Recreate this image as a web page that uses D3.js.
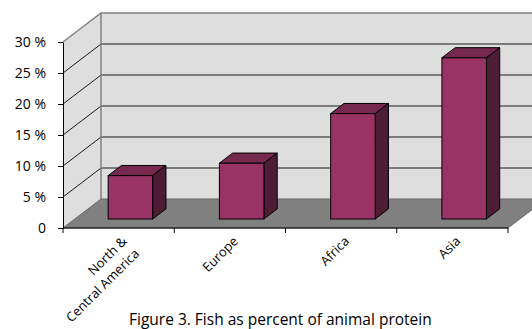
<!DOCTYPE html>
<html>
<head>
<meta charset="utf-8">
<script src="https://cdn.jsdelivr.net/npm/d3@7"></script>
<style>
  body { margin: 0; background: #fff; }
  text { font-family: "Open Sans", sans-serif; fill: #000; }
</style>
</head>
<body>
<svg id="chart" width="532" height="329"></svg>
<script>
let categories = [['North &', 'Central America'], ['Europe'], ['Africa'], ['Asia']];
let values = [7, 9, 17, 26];
let yTicks = [0, 5, 10, 15, 20, 25, 30];
let yTickLabels = ['0', '5 %', '10 %', '15 %', '20 %', '25 %', '30 %'];
let title = 'Figure 3. Fish as percent of animal protein';

let width = 532;
let height = 329;

// front plane of the box and how far back the walls sit
let x0 = 63, x1 = 508;
let depthX = 38, depthY = -29;
let barFront = 0.31, barBack = 0.66;

let svg = d3.select('#chart');

let x = d3.scaleBand()
  .domain(d3.range(categories.length))
  .range([x0, x1])
  .paddingInner(0.6)
  .paddingOuter(0.3);

let xOuter = d3.scaleBand()
  .domain(d3.range(categories.length))
  .range([x0, x1]);

let y = d3.scaleLinear()
  .domain([0, 30])
  .range([228, 42]);

// move a front-plane point back by depth d (0..1)
const P = (px, py, d) => [px + d * depthX, py + d * depthY];
const poly = pts => pts.map(p => p.join(',')).join(' ');

let yMax = d3.max(yTicks);

// side wall
svg.append('polygon')
  .attr('points', poly([P(x0, y(yMax), 0), P(x0, y(yMax), 1), P(x0, y(0), 1), P(x0, y(0), 0)]))
  .attr('fill', '#dedede');

// back wall
svg.append('polygon')
  .attr('points', poly([P(x0, y(yMax), 1), P(x1, y(yMax), 1), P(x1, y(0), 1), P(x0, y(0), 1)]))
  .attr('fill', '#dedede');

// gridlines on both walls
let grid = svg.append('g').attr('class', 'grid');
yTicks.filter(v => v > 0 && v < yMax).forEach(v => {
  let a = P(x0, y(v), 0), b = P(x0, y(v), 1), c = P(x1, y(v), 1);
  grid.append('polyline')
    .attr('points', poly([a, b, c]))
    .attr('fill', 'none')
    .attr('stroke', '#1a1a1a')
    .attr('stroke-width', 1);
});

// wall outline
svg.append('polyline')
  .attr('points', poly([P(x0, y(yMax), 0), P(x0, y(yMax), 1), P(x1, y(yMax), 1)]))
  .attr('fill', 'none')
  .attr('stroke', '#808080')
  .attr('stroke-width', 1.5);
svg.append('line')
  .attr('x1', P(x0, 0, 1)[0]).attr('x2', P(x0, 0, 1)[0])
  .attr('y1', P(0, y(yMax), 1)[1]).attr('y2', P(0, y(0), 1)[1])
  .attr('stroke', '#808080')
  .attr('stroke-width', 1.5);

// floor
svg.append('polygon')
  .attr('points', poly([P(x0, y(0), 0), P(x1, y(0), 0), P(x1, y(0), 1), P(x0, y(0), 1)]))
  .attr('fill', '#808080')
  .attr('stroke', '#6a6a6a')
  .attr('stroke-width', 1);

// bars
let bars = svg.append('g').attr('class', 'bars')
  .selectAll('g')
  .data(values)
  .join('g');

bars.each(function (v, i) {
  let g = d3.select(this);
  let l = x(i) + barFront * depthX, r = l + x.bandwidth();
  let lx = x(i), rx = x(i) + x.bandwidth();
  let fb = P(lx, y(0), barFront)[1], ft = P(lx, y(v), barFront)[1];
  let bb = P(lx, y(0), barBack)[1], bt = P(lx, y(v), barBack)[1];
  let lb = P(lx, 0, barBack)[0], rb = P(rx, 0, barBack)[0];
  // top
  g.append('polygon')
    .attr('points', poly([[l, ft], [r, ft], [rb, bt], [lb, bt]]))
    .attr('fill', '#76284f').attr('stroke', '#000').attr('stroke-width', 1);
  // side
  g.append('polygon')
    .attr('points', poly([[r, ft], [rb, bt], [rb, bb], [r, fb]]))
    .attr('fill', '#4d1d33').attr('stroke', '#000').attr('stroke-width', 1);
  // front
  g.append('rect')
    .attr('x', l).attr('y', ft)
    .attr('width', r - l).attr('height', fb - ft)
    .attr('fill', '#993366').attr('stroke', '#000').attr('stroke-width', 1);
});

// y axis
let yAxis = d3.axisLeft(y)
  .tickValues(yTicks)
  .tickFormat((d, i) => yTickLabels[i])
  .tickSize(5)
  .tickSizeOuter(0);

svg.append('g')
  .attr('transform', `translate(${x0},0)`)
  .call(yAxis)
  .call(g => g.select('.domain').attr('stroke', '#000'))
  .call(g => g.selectAll('.tick line').attr('stroke', '#000'))
  .call(g => g.selectAll('.tick text')
    .attr('x', -17)
    .attr('font-family', '"Open Sans", sans-serif')
    .attr('font-size', 14)
    .attr('fill', '#000'));

// x axis: ticks on category boundaries
let xAxisG = svg.append('g').attr('class', 'x-axis');
xAxisG.append('line')
  .attr('x1', x0).attr('x2', x1)
  .attr('y1', y(0)).attr('y2', y(0))
  .attr('stroke', '#000');
let bounds = xOuter.domain().map(i => xOuter(i)).concat([x1]);
xAxisG.selectAll('line.tick')
  .data(bounds)
  .join('line')
  .attr('class', 'tick')
  .attr('x1', d => d).attr('x2', d => d)
  .attr('y1', y(0)).attr('y2', y(0) + 5)
  .attr('stroke', '#000');

// category labels, rotated
xAxisG.selectAll('text')
  .data(categories)
  .join('text')
  .attr('transform', (d, i) => {
    let cx = xOuter(i) + xOuter.bandwidth() / 2 + 9;
    return `translate(${cx},${y(0) + 14}) rotate(-45)`;
  })
  .attr('text-anchor', 'end')
  .attr('font-size', 13)
  .each(function (d) {
    let t = d3.select(this);
    d.forEach((line, k) => {
      t.append('tspan')
        .attr('x', 0)
        .attr('dy', k === 0 ? 0 : '1.35em')
        .text(line);
    });
  });

// caption
svg.append('text')
  .attr('x', 129)
  .attr('y', 325)
  .attr('font-size', 15.5)
  .text(title);
</script>
</body>
</html>
